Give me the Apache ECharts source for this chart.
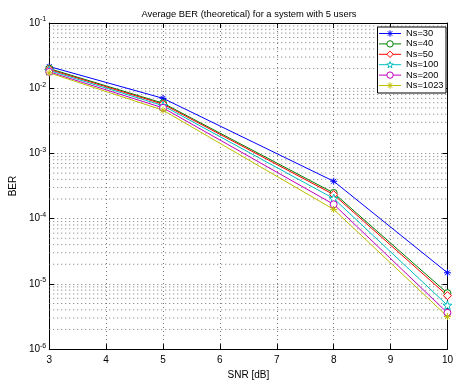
<!DOCTYPE html>
<html>
<head>
<meta charset="utf-8">
<script src="https://cdn.jsdelivr.net/npm/echarts@6/dist/echarts.min.js"></script>
<style>
  html, body { margin: 0; padding: 0; background: #fff; }
  #chart { width: 456px; height: 385px; }
</style>
</head>
<body>
<div id="chart"></div>
<script>
// SNR points (dB) and BER values
const snr = [3, 5, 8, 10];
const ns30 = [0.0215, 0.0070, 3.75e-4, 1.48e-5];
const ns40 = [0.0200, 0.0059, 2.48e-4, 7.2e-6];
const ns50 = [0.0194, 0.0057, 2.34e-4, 6.6e-6];
const ns100 = [0.0187, 0.0054, 2.04e-4, 4.7e-6];
const ns200 = [0.0178, 0.0050, 1.66e-4, 3.6e-6];
const ns1023 = [0.0172, 0.0046, 1.39e-4, 3.15e-6];
const names = ["Ns=30", "Ns=40", "Ns=50", "Ns=100", "Ns=200", "Ns=1023"];

// minor log grid lines (2..9 in each decade)
const minorLines = [];
for (let k = -6; k <= -2; k++) {
  for (let m = 2; m <= 9; m++) minorLines.push(m * Math.pow(10, k));
}

const asterisk = "path://M0,-5L0,5M-5,0L5,0M-3.5,-3.5L3.5,3.5M3.5,-3.5L-3.5,3.5";
const pentagram =
  "path://M0,-5L1.176,-1.618L4.755,-1.545L1.902,0.618L2.939,4.045L0,2L-2.939,4.045L-1.902,0.618L-4.755,-1.545L-1.176,-1.618Z";

const font = "Liberation Sans, Arial, Helvetica, sans-serif";
const dotColor = "#777";
const gridDots = { color: dotColor, type: [1, 3], width: 1 };

function makeSeries(name, values, color, symbol, size, hollow) {
  return {
    name,
    type: "line",
    color,
    data: snr.map((x, i) => [x, values[i]]),
    symbol,
    symbolSize: size,
    showAllSymbol: true,
    lineStyle: { width: 1, color },
    itemStyle: { color: hollow ? "#fff" : color, borderColor: color, borderWidth: 1 },
    emphasis: { disabled: true },
    z: 3,
  };
}

const chart = echarts.init(document.getElementById("chart"));
chart.setOption({
  animation: false,
  backgroundColor: "#fff",
  title: {
    text: "Average BER (theoretical) for a system with 5 users",
    left: 244,
    textAlign: "center",
    top: 5,
    textStyle: { fontFamily: font, fontSize: 9.4, fontWeight: "normal", color: "#000" },
  },
  grid: { left: 39, right: 7, top: 23, bottom: 29 },
  legend: {
    orient: "vertical",
    right: 10,
    top: 27,
    data: names,
    backgroundColor: "#fff",
    borderColor: "#000",
    borderWidth: 1,
    padding: [2, 2.5, 3, 1],
    itemWidth: 22,
    itemHeight: 8,
    itemGap: 1.4,
    lineStyle: { width: 1 },
    itemStyle: { borderWidth: 1 },
    textStyle: { fontFamily: font, fontSize: 9.3, lineHeight: 8, color: "#000" },
  },
  xAxis: [
    {
      type: "value",
      min: 3,
      max: 10,
      interval: 1,
      name: "SNR [dB]",
      nameLocation: "middle",
      nameGap: 19,
      nameTextStyle: { fontFamily: font, fontSize: 10, color: "#000" },
      axisLine: { onZero: false, lineStyle: { color: "#000", width: 1 } },
      axisTick: { inside: true, length: 5, lineStyle: { color: "#000" } },
      axisLabel: { fontFamily: font, fontSize: 10, color: "#000", margin: 6 },
      splitLine: { show: true, lineStyle: gridDots },
    },
    {
      type: "value",
      position: "top",
      min: 3,
      max: 10,
      interval: 1,
      axisLine: { onZero: false, lineStyle: { color: "#000", width: 1 } },
      axisTick: { inside: true, length: 5, lineStyle: { color: "#000" } },
      axisLabel: { show: false },
      splitLine: { show: false },
    },
  ],
  yAxis: [
    {
      type: "log",
      logBase: 10,
      min: 1e-6,
      max: 1e-1,
      name: "BER",
      nameLocation: "middle",
      nameGap: 24,
      nameTextStyle: { fontFamily: font, fontSize: 10, color: "#000" },
      axisLine: { onZero: false, lineStyle: { color: "#000", width: 1 } },
      axisTick: { inside: true, length: 5, lineStyle: { color: "#000" } },
      axisLabel: {
        fontFamily: font,
        color: "#000",
        margin: 3,
        formatter: (v) => "{b|10}{e|" + Math.round(Math.log10(v)) + "}",
        rich: {
          b: { fontFamily: font, fontSize: 10, color: "#000" },
          e: { fontFamily: font, fontSize: 7, color: "#000", padding: [0, 0, 7, 0] },
        },
      },
      splitLine: { show: true, lineStyle: gridDots },
    },
    {
      type: "log",
      logBase: 10,
      min: 1e-6,
      max: 1e-1,
      position: "right",
      axisLine: { onZero: false, lineStyle: { color: "#000", width: 1 } },
      axisTick: { inside: true, length: 5, lineStyle: { color: "#000" } },
      axisLabel: { show: false },
      splitLine: { show: false },
    },
  ],
  series: [
    {
      name: "minor grid",
      type: "custom",
      silent: true,
      z: 1,
      data: minorLines.map((v) => [3, v]),
      encode: { x: 0, y: 1 },
      renderItem: (params, api) => {
        const v = api.value(1);
        const p1 = api.coord([3, v]);
        const p2 = api.coord([10, v]);
        return {
          type: "line",
          shape: { x1: p1[0], y1: p1[1], x2: p2[0], y2: p2[1] },
          style: { stroke: dotColor, lineWidth: 1, lineDash: [1, 3] },
        };
      },
    },
    makeSeries(names[0], ns30, "#0000ff", asterisk, 7, false),
    makeSeries(names[1], ns40, "#008000", "circle", 7, true),
    makeSeries(names[2], ns50, "#ff0000", "diamond", 8, true),
    makeSeries(names[3], ns100, "#00bfbf", pentagram, 9, true),
    makeSeries(names[4], ns200, "#bf00bf", "circle", 7, true),
    makeSeries(names[5], ns1023, "#bfbf00", asterisk, 7, false),
  ],
});
</script>
</body>
</html>
